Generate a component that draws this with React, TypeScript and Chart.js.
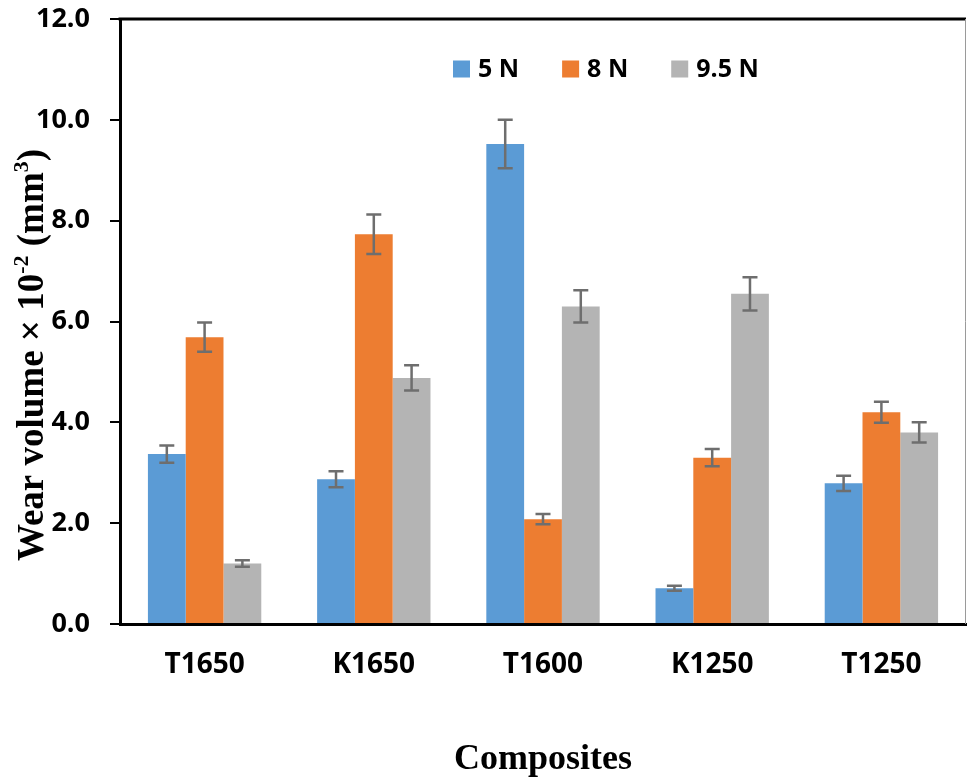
import React, { useEffect, useRef } from "react";
import { Chart, registerables } from "chart.js";

Chart.register(...registerables);

const categories = ["T1650", "K1650", "T1600", "K1250", "T1250"];
const seriesLabels = ["5 N", "8 N", "9.5 N"];
const load5N = [3.37, 2.87, 9.52, 0.71, 2.79];
const load8N = [5.69, 7.73, 2.08, 3.3, 4.2];
const load95N = [1.2, 4.88, 6.3, 6.55, 3.8];
const err5N = [0.17, 0.16, 0.48, 0.05, 0.15];
const err8N = [0.29, 0.39, 0.1, 0.17, 0.21];
const err95N = [0.065, 0.25, 0.32, 0.33, 0.2];
const yMin = 0;
const yMax = 12;
const yStep = 2;
const xTitle = "Composites";
const yTitleRuns = [
  { t: "Wear volume × 10", sup: false },
  { t: "-2", sup: true },
  { t: " (mm", sup: false },
  { t: "3", sup: true },
  { t: ")", sup: false },
];

const colors = ["#5B9BD5", "#ED7D31", "#B4B4B4"];
const errors = [err5N, err8N, err95N];

const errorBarPlugin = {
  id: "errorBars",
  afterDatasetsDraw(chart: any) {
    const ctx = chart.ctx;
    const yScale = chart.scales.y;
    ctx.save();
    ctx.strokeStyle = "#6E6E6E";
    ctx.lineWidth = 2.5;
    chart.data.datasets.forEach((ds: any, i: number) => {
      const meta = chart.getDatasetMeta(i);
      meta.data.forEach((el: any, j: number) => {
        const v = ds.data[j];
        const e = errors[i][j];
        const yt = yScale.getPixelForValue(v + e);
        const yb = yScale.getPixelForValue(v - e);
        const x = el.x;
        const hw = 7.5;
        ctx.beginPath();
        ctx.moveTo(x, yt);
        ctx.lineTo(x, yb);
        ctx.moveTo(x - hw, yt);
        ctx.lineTo(x + hw, yt);
        ctx.moveTo(x - hw, yb);
        ctx.lineTo(x + hw, yb);
        ctx.stroke();
      });
    });
    ctx.restore();
  },
};

const framePlugin = {
  id: "frame",
  beforeDatasetsDraw(chart: any) {
    const { ctx, chartArea } = chart;
    ctx.save();
    ctx.strokeStyle = "#000";
    ctx.lineWidth = 3;
    ctx.beginPath();
    ctx.moveTo(chartArea.left - 1.5, chartArea.top);
    ctx.lineTo(chartArea.right, chartArea.top);
    ctx.stroke();
    ctx.strokeStyle = "#9a9a9a";
    ctx.lineWidth = 1;
    ctx.beginPath();
    ctx.moveTo(chartArea.right - 0.5, chartArea.top);
    ctx.lineTo(chartArea.right - 0.5, chartArea.bottom);
    ctx.stroke();
    ctx.restore();
  },
};

const legendPlugin = {
  id: "customLegend",
  afterDraw(chart: any) {
    const { ctx, chartArea } = chart;
    ctx.save();
    ctx.font = "bold 25px 'Open Sans'";
    ctx.textBaseline = "middle";
    ctx.textAlign = "left";
    let x = chartArea.left + 333;
    const cy = chartArea.top + 50;
    const box = 17;
    chart.data.datasets.forEach((ds: any) => {
      ctx.fillStyle = ds.backgroundColor;
      ctx.fillRect(x, cy - box / 2, box, box);
      x += box + 8;
      ctx.fillStyle = "#000";
      ctx.fillText(ds.label, x, cy + 1);
      x += ctx.measureText(ds.label).width + 43;
    });
    ctx.restore();
  },
};

const yTitlePlugin = {
  id: "yTitle",
  afterDraw(chart: any) {
    const ctx = chart.ctx;
    const size = 37;
    const supSize = 22;
    const mainFont = `bold ${size}px 'Liberation Serif', 'Times New Roman', serif`;
    const supFont = `bold ${supSize}px 'Liberation Serif', 'Times New Roman', serif`;
    ctx.save();
    let total = 0;
    yTitleRuns.forEach((r) => {
      ctx.font = r.sup ? supFont : mainFont;
      total += ctx.measureText(r.t).width;
    });
    ctx.translate(43, 355);
    ctx.rotate(-Math.PI / 2);
    ctx.fillStyle = "#000";
    ctx.textBaseline = "alphabetic";
    ctx.textAlign = "left";
    let x = -total / 2;
    yTitleRuns.forEach((r) => {
      ctx.font = r.sup ? supFont : mainFont;
      ctx.fillText(r.t, x, r.sup ? -size * 0.4 : 0);
      x += ctx.measureText(r.t).width;
    });
    ctx.restore();
  },
};

export default function App() {
  const ref = useRef<HTMLCanvasElement | null>(null);
  useEffect(() => {
    document.body.style.margin = "0";
    document.body.style.overflow = "hidden";
    const canvas = ref.current!;
    Chart.defaults.font.family = "'Open Sans'";
    const chart = new Chart(canvas, {
      type: "bar",
      data: {
        labels: categories,
        datasets: [load5N, load8N, load95N].map((d, i) => ({
          label: seriesLabels[i],
          data: d,
          backgroundColor: colors[i],
          borderWidth: 0,
          barPercentage: 1.0,
          categoryPercentage: 0.67,
        })),
      },
      options: {
        animation: false,
        responsive: false,
        layout: { padding: { top: 19, right: 1, bottom: 0, left: 0 } },
        plugins: {
          legend: { display: false },
          tooltip: { enabled: false },
        },
        scales: {
          x: {
            grid: { display: false, drawTicks: false },
            border: { display: true, color: "#000", width: 3 },
            ticks: {
              color: "#000",
              font: { size: 28, weight: "bold" },
              padding: 24,
            },
            title: {
              display: true,
              text: xTitle,
              color: "#000",
              font: { family: "'Liberation Serif', 'Times New Roman', serif", size: 36, weight: "bold" },
              padding: { top: 0, bottom: 1 },
            },
            afterFit(scale: any) {
              scale.height = 158;
              scale.paddingLeft = 0;
              scale.paddingRight = 0;
            },
          },
          y: {
            min: yMin,
            max: yMax,
            grid: {
              display: true,
              drawOnChartArea: false,
              drawTicks: true,
              tickLength: 10,
              color: "#000",
              lineWidth: 2,
            },
            border: { display: true, color: "#000", width: 3 },
            ticks: {
              stepSize: yStep,
              color: "#000",
              font: { size: 27, weight: "bold" },
              padding: 20,
              callback: (v: any) => Number(v).toFixed(1),
            },
            afterFit(scale: any) {
              scale.width = 120;
              scale.paddingTop = 0;
              scale.paddingBottom = 0;
            },
          },
        },
      },
      plugins: [framePlugin, errorBarPlugin, legendPlugin, yTitlePlugin],
    });
    return () => chart.destroy();
  }, []);
  return (
    <div style={{ position: "fixed", left: 0, top: 0, width: 967, height: 782, background: "#fff" }}>
      <canvas ref={ref} width={967} height={782} style={{ display: "block" }} />
    </div>
  );
}
